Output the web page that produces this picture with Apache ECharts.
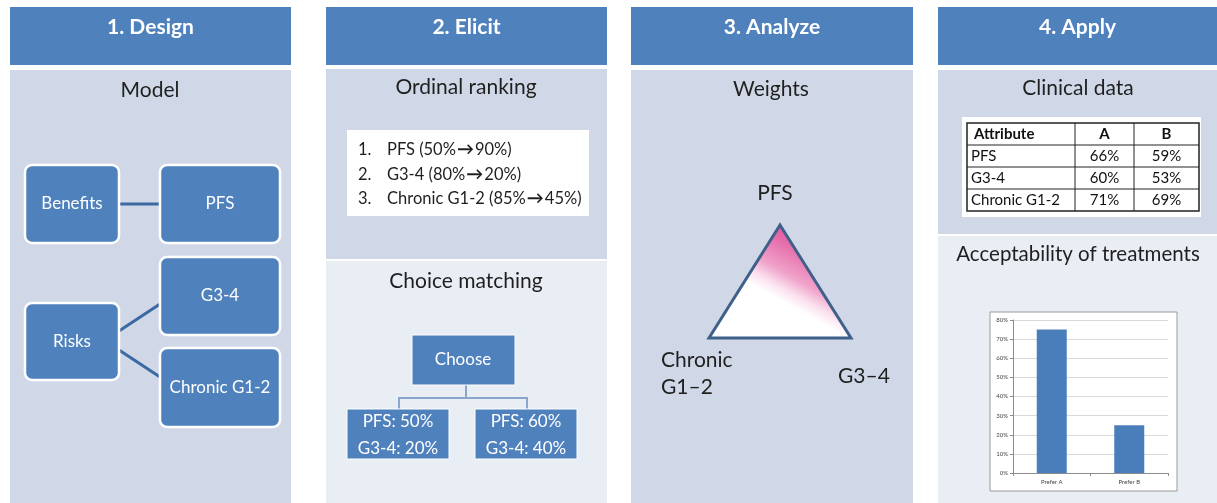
<!DOCTYPE html>
<html>
<head>
<meta charset="utf-8">
<script src="https://cdn.jsdelivr.net/npm/echarts@6/dist/echarts.min.js"></script>
<style>
html,body{margin:0;padding:0;background:#fff;}
#main{width:1217px;height:503px;}
</style>
</head>
<body>
<div id="main"></div>
<script>
// ---- data ----
const stageTitles = ['1. Design', '2. Elicit', '3. Analyze', '4. Apply'];
const sectionTitles = ['Model', 'Ordinal ranking', 'Choice matching', 'Weights', 'Clinical data', 'Acceptability of treatments'];
const modelGroups = ['Benefits', 'Risks'];
const modelAttributes = ['PFS', 'G3-4', 'Chronic G1-2'];
const rankingItems = [['PFS (50%', '90%)'], ['G3-4 (80%', '20%)'], ['Chronic G1-2 (85%', '45%)']];
const choiceRoot = 'Choose';
const choiceLeft = ['PFS: 50%', 'G3-4: 20%'];
const choiceRight = ['PFS: 60%', 'G3-4: 40%'];
const weightLabels = ['PFS', 'Chronic\nG1\u20132', 'G3\u20134'];
const tableHeader = ['Attribute', 'A', 'B'];
const tableAttributes = ['PFS', 'G3-4', 'Chronic G1-2'];
const treatmentA = ['66%', '60%', '71%'];
const treatmentB = ['59%', '53%', '69%'];
const preferCategories = ['Prefer A', 'Prefer B'];
const preferValues = [75, 25];

// ---- styles ----
const FONT = 'Lato, "Open Sans", sans-serif';
const HEAD = '#4f81bd';
const BODY = '#d0d8e8';
const BODY2 = '#e9edf4';
const DARK = '#1f1f1f';

const el = [];
function rect(x, y, w, h, fill, extra) {
  el.push(Object.assign({type: 'rect', shape: {x, y, width: w, height: h, r: (extra && extra.r) || 0},
    style: Object.assign({fill}, (extra && extra.style) || {}), silent: true, z: (extra && extra.z) || 0}));
}
function text(str, x, y, size, color, opts) {
  opts = opts || {};
  const st = {text: str, x, y, fill: color, fontSize: size, fontFamily: FONT,
      fontWeight: opts.bold ? 'bold' : (opts.weight || 'normal'), align: opts.align || 'center',
      verticalAlign: opts.valign || 'middle', lineHeight: opts.lh || size * 1.3};
  if (opts.rich) st.rich = opts.rich;
  el.push({type: 'text', silent: true, z: opts.z || 5, style: st});
}
function line(x1, y1, x2, y2, color, w, z) {
  el.push({type: 'line', silent: true, z: z || 2, shape: {x1, y1, x2, y2}, style: {stroke: color, lineWidth: w}});
}
function box(x, y, w, h, label, size) {
  rect(x, y, w, h, HEAD, {r: 7, z: 3, style: {stroke: '#ffffff', lineWidth: 2.5}});
  text(label, x + w / 2, y + h / 2, size, '#ffffff', {z: 4});
}

// Column backgrounds
const cols = [[10, 291], [326, 607], [631, 913], [938, 1217]];
cols.forEach((c, i) => {
  rect(c[0], 7, c[1] - c[0], 58, HEAD);
  text(stageTitles[i], (c[0] + c[1]) / 2, 27, 21, '#ffffff', {bold: true});
});
rect(10, 70, 281, 433, BODY);
rect(326, 69, 281, 190, BODY);
rect(326, 261, 281, 242, BODY2);
rect(631, 70, 282, 433, BODY);
rect(938, 70, 279, 164, BODY);
rect(938, 236, 279, 267, BODY2);

// Column 1: model
text(sectionTitles[0], 150, 90, 21, DARK);
line(119, 204, 160, 204, '#3b69a1', 3);
line(119, 331, 160, 304, '#3b69a1', 3);
line(119, 350, 160, 377, '#3b69a1', 3);
box(25, 165, 94, 78, modelGroups[0], 17);
box(25, 303, 94, 77, modelGroups[1], 17);
box(160, 165, 120, 78, modelAttributes[0], 17);
box(160, 257, 120, 78, modelAttributes[1], 17);
box(160, 348, 120, 79, modelAttributes[2], 17);

// Column 2: elicit
text(sectionTitles[1], 466, 87, 21, DARK);
rect(347, 130, 242, 86, '#ffffff');
rankingItems.forEach((s, i) => {
  const y = 150 + i * 24.5;
  text((i + 1) + '.', 358, y, 16.5, DARK, {align: 'left'});
  text(s[0] + '{arr|\u2192}' + s[1], 387, y, 16.5, DARK, {align: 'left',
    rich: {arr: {fontSize: 17, fontWeight: 'bold', fill: DARK, fontFamily: FONT, padding: [0, 1, 0, 1]}}});
});
text(sectionTitles[2], 466, 281, 21, DARK);
line(466, 385, 466, 398, '#8aa6cc', 2);
line(399, 398, 527, 398, '#8aa6cc', 2);
line(399, 397, 399, 409, '#8aa6cc', 2);
line(527, 397, 527, 409, '#8aa6cc', 2);
rect(412, 335, 103, 50, HEAD, {z: 3, style: {stroke: '#ffffff', lineWidth: 1}});
text(choiceRoot, 463, 360, 17, '#ffffff', {z: 4});
[[347, choiceLeft], [475, choiceRight]].forEach(([x, arr]) => {
  rect(x, 409, 102, 50, HEAD, {z: 3, style: {stroke: '#ffffff', lineWidth: 1}});
  text(arr[0], x + 51, 422, 17, '#ffffff', {z: 4});
  text(arr[1], x + 51, 449, 17, '#ffffff', {z: 4});
});

// Column 3: weights
text(sectionTitles[3], 771, 89, 21, DARK);
text(weightLabels[0], 775, 193, 21, DARK);
text(weightLabels[1], 661, 374, 21, DARK, {align: 'left', lh: 27});
text(weightLabels[2], 838, 376, 21, DARK, {align: 'left'});
el.push({type: 'polygon', silent: true, z: 3,
  shape: {points: [[780, 225], [709, 338], [851, 338]]},
  style: {
    fill: new echarts.graphic.LinearGradient(0.6, 0, 0.2, 0.9, [
      {offset: 0, color: '#de4b97'},
      {offset: 0.2, color: '#e672ae'},
      {offset: 0.4, color: '#f0a2ca'},
      {offset: 0.52, color: '#fbe0ee'},
      {offset: 0.62, color: '#ffffff'},
      {offset: 1, color: '#ffffff'}
    ]),
    stroke: '#3f6089', lineWidth: 3, lineJoin: 'miter'
  }});

// Column 4: apply
text(sectionTitles[4], 1078, 88, 21, DARK);
rect(962, 117, 239, 100, '#ffffff');
const tx = [967, 1075, 1134, 1199];
const ty = [123, 145, 167, 189, 211];
rect(967, 123, 232, 88, 'none', {z: 6, style: {stroke: '#222222', lineWidth: 1.5}});
ty.slice(1, 4).forEach(y => line(967, y, 1199, y, '#222222', 1, 6));
tx.slice(1, 3).forEach(x => line(x, 123, x, 211, '#222222', 1, 6));
text(tableHeader[0], 974, 134, 15, '#111', {align: 'left', bold: true});
text(tableHeader[1], 1104.5, 134, 15, '#111', {bold: true});
text(tableHeader[2], 1166.5, 134, 15, '#111', {bold: true});
tableAttributes.forEach((a, i) => {
  const y = (ty[i + 1] + ty[i + 2]) / 2;
  text(a, 971, y, 15, '#111', {align: 'left'});
  text(treatmentA[i], 1104.5, y, 15, '#111');
  text(treatmentB[i], 1166.5, y, 15, '#111');
});
text(sectionTitles[5], 1078, 254, 20.5, DARK);
rect(990, 312, 187, 179, '#ffffff', {style: {stroke: '#9a9a9a', lineWidth: 1}});

const option = {
  animation: false,
  backgroundColor: '#ffffff',
  graphic: {elements: el},
  grid: {left: 1013, top: 320, width: 155, height: 153, containLabel: false, z: 10},
  xAxis: {
    type: 'category', data: preferCategories, z: 10,
    axisLine: {lineStyle: {color: '#8c8c8c', width: 1}},
    axisTick: {show: true, alignWithLabel: false, lineStyle: {color: '#8c8c8c'}, length: 3},
    axisLabel: {fontSize: 6, color: '#444', margin: 6, fontFamily: FONT}
  },
  yAxis: {
    type: 'value', min: 0, max: 80, interval: 10, z: 10,
    axisLine: {show: true, lineStyle: {color: '#8c8c8c', width: 1}},
    axisTick: {show: true, inside: false, length: 3, lineStyle: {color: '#8c8c8c'}},
    axisLabel: {fontSize: 6, color: '#444', margin: 5, formatter: '{value}%', fontFamily: FONT},
    splitLine: {show: true, lineStyle: {color: '#d9d9d9', width: 1}}
  },
  series: [{
    type: 'bar', data: preferValues, barWidth: 30, z: 10,
    itemStyle: {color: '#4a7ebb'}
  }]
};
const chart = echarts.init(document.getElementById('main'), null, {renderer: 'canvas'});
chart.setOption(option);
</script>
</body>
</html>
